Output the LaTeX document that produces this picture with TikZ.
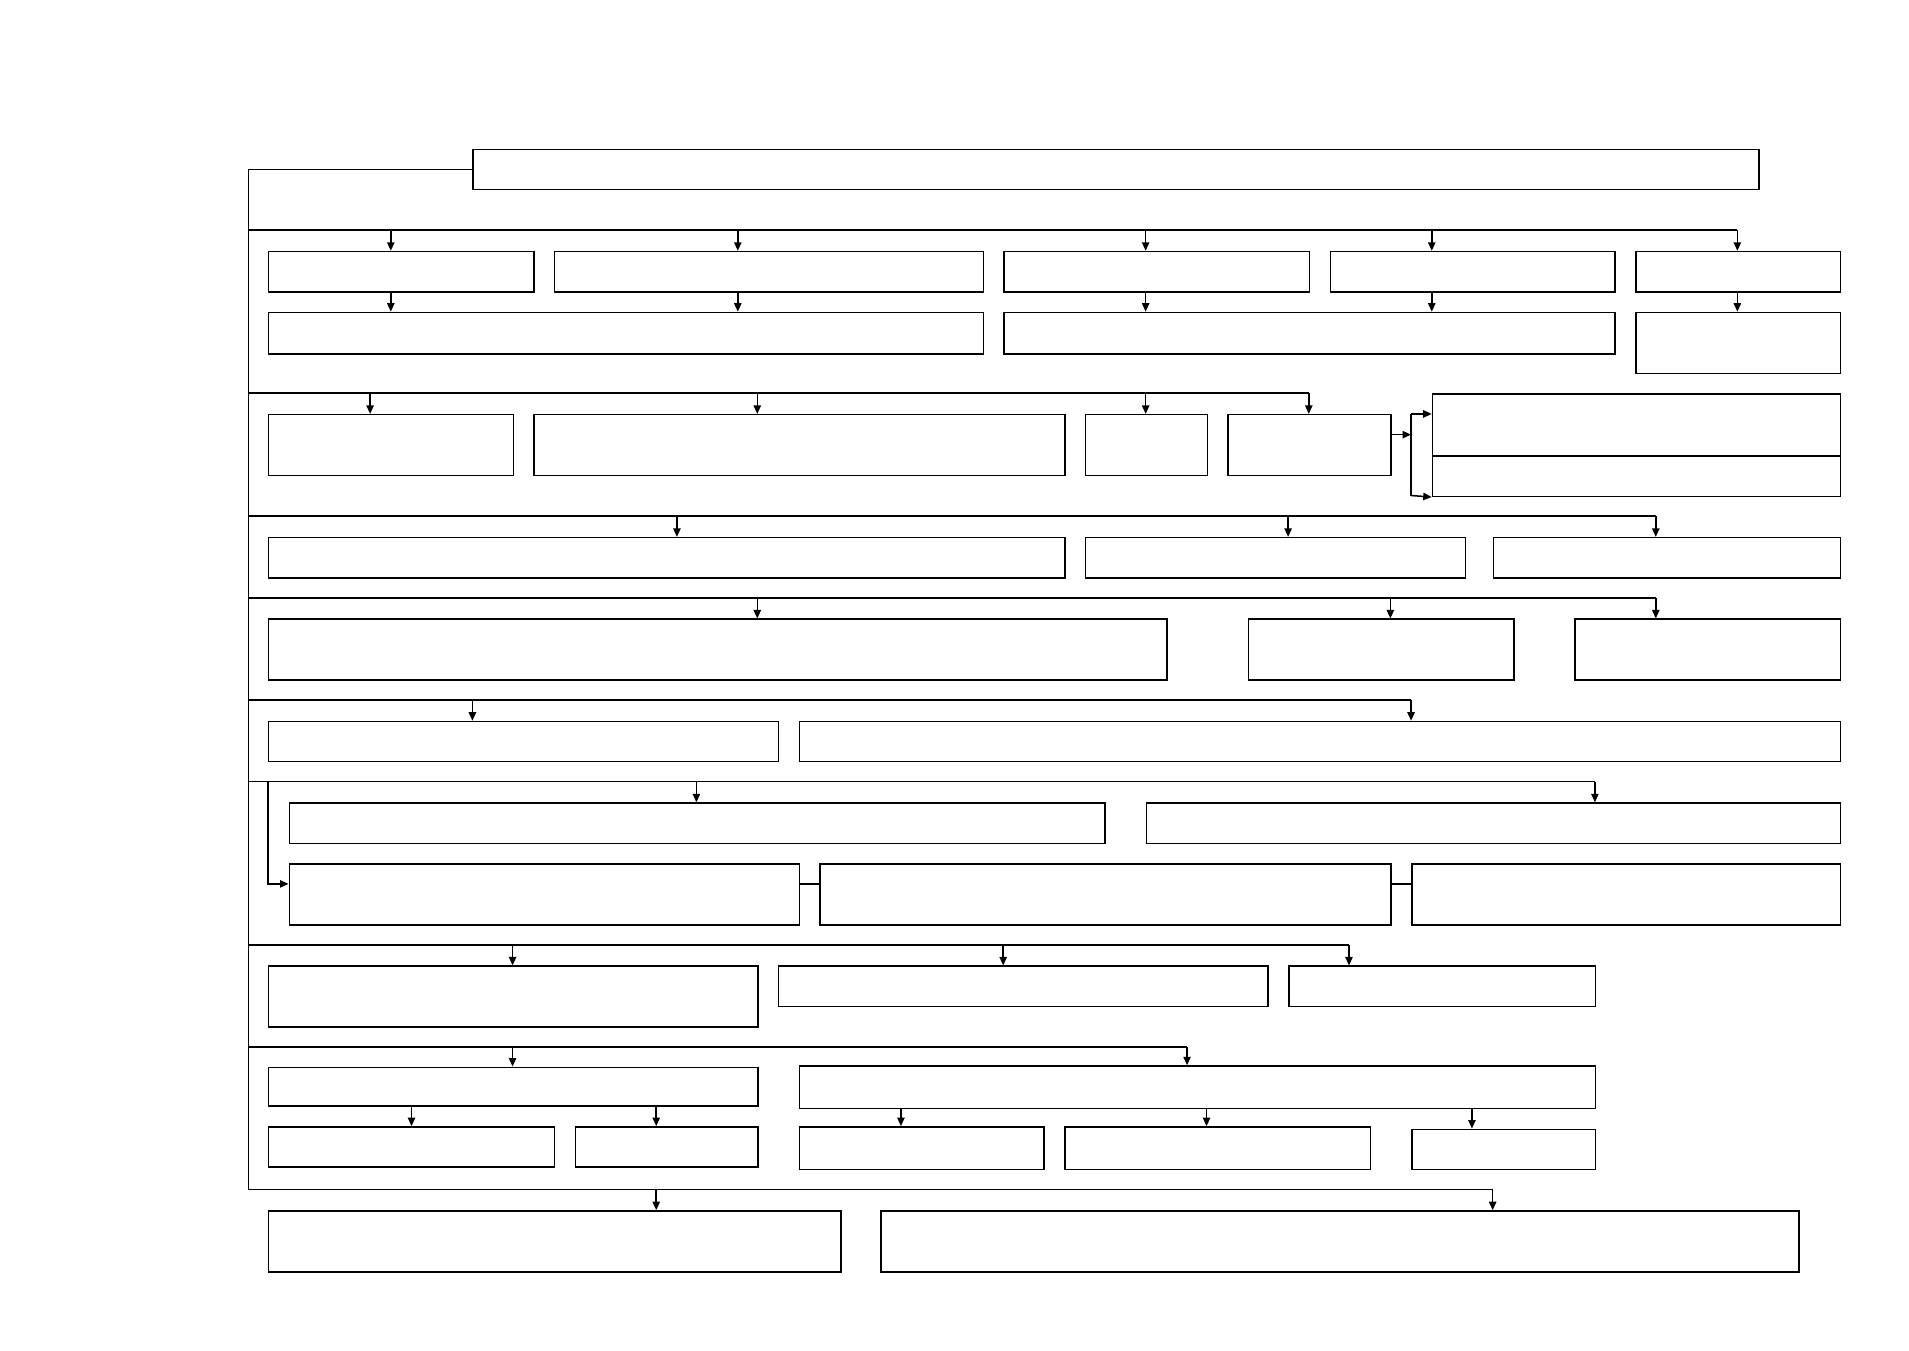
\documentclass[tikz,border=0pt]{standalone}
\usetikzlibrary{arrows.meta}
\tikzset{
  box/.style={draw, line width=1.25pt, rectangle, inner sep=0pt, anchor=north west},
  conn/.style={line width=1.25pt},
  arr/.style={conn, -{Triangle[length=7pt,width=6pt]}}
}
\newcommand\mybox[5]{\node[box, minimum width={(#4-#2)*1pt}, minimum height={(#5-#3)*1pt}] (#1) at (#2,#3) {};}
\begin{document}
\begin{tikzpicture}[x=1pt,y=-1pt]
\useasboundingbox (0,0) rectangle (1568,1109);
% boxes
\mybox{top}{388}{122}{1444}{155}
\mybox{A1}{220}{206}{438}{239}
\mybox{A2}{455}{206}{807}{239}
\mybox{A3}{824}{206}{1075}{239}
\mybox{A4}{1092}{206}{1326}{239}
\mybox{A5}{1343}{206}{1511}{239}
\mybox{B1}{220}{256}{807}{290}
\mybox{B2}{824}{256}{1326}{290}
\mybox{B3}{1343}{256}{1511}{306}
\mybox{C1}{220}{340}{421}{390}
\mybox{C2}{438}{340}{874}{390}
\mybox{C3}{891}{340}{991}{390}
\mybox{C4}{1008}{340}{1142}{390}
\mybox{D1}{1176}{323}{1511}{374}
\mybox{D2}{1176}{374}{1511}{407}
\mybox{E1}{220}{441}{874}{474}
\mybox{E2}{891}{441}{1203}{474}
\mybox{E3}{1226}{441}{1511}{474}
\mybox{F1}{220}{508}{958}{558}
\mybox{F2}{1025}{508}{1243}{558}
\mybox{F3}{1293}{508}{1511}{558}
\mybox{G1}{220}{592}{639}{625}
\mybox{G2}{656}{592}{1511}{625}
\mybox{H1}{237}{659}{907}{692}
\mybox{H2}{941}{659}{1511}{692}
\mybox{I1}{237}{709}{656}{759}
\mybox{I2}{673}{709}{1142}{759}
\mybox{I3}{1159}{709}{1511}{759}
\mybox{J1}{220}{793}{622}{843}
\mybox{J2}{639}{793}{1041}{826}
\mybox{J3}{1058}{793}{1310}{826}
\mybox{K1}{220}{876}{622}{908}
\mybox{K2}{656}{875}{1310}{910}
\mybox{L1}{220}{925}{455}{958}
\mybox{L2}{472}{925}{622}{958}
\mybox{L3}{656}{925}{857}{960}
\mybox{L4}{874}{925}{1125}{960}
\mybox{L5}{1159}{927}{1310}{960}
\mybox{M1}{220}{994}{690}{1044}
\mybox{M2}{723}{994}{1477}{1044}
% spine
\coordinate (sp0) at (204,0 |- top.west);
\coordinate (spE) at (204,977);
\draw[conn] (top.west) -- (sp0) -- (spE);
% branch lines
\coordinate (r1) at (204,189);
\coordinate (r3) at (204,323);
\coordinate (r4) at (204,424);
\coordinate (r5) at (204,491);
\coordinate (r6) at (204,575);
\coordinate (r7) at (204,642);
\coordinate (r9) at (204,776);
\coordinate (r10) at (204,860);
\coordinate (r12) at (204,977);
\draw[conn] (r1) -- (1427,0 |- r1);
\draw[conn] (r3) -- (1075,0 |- r3);
\draw[conn] (r4) -- (1360,0 |- r4);
\draw[conn] (r5) -- (1360,0 |- r5);
\draw[conn] (r6) -- (1159,0 |- r6);
\draw[conn] (r7) -- (1310,0 |- r7);
\draw[conn] (r9) -- (1108,0 |- r9);
\draw[conn] (r10) -- (975,0 |- r10);
\draw[conn] (r12) -- (1226,0 |- r12);
% taps
\foreach \x/\n in {321/A1,606/A2,941/A3,1176/A4,1427/A5}
  \draw[arr] (\x,0 |- r1) -- (\x,0 |- \n.north);
\foreach \x/\m/\n in {321/A1/B1,606/A2/B1,941/A3/B2,1176/A4/B2,1427/A5/B3}
  \draw[arr] (\x,0 |- \m.south) -- (\x,0 |- \n.north);
\foreach \x/\n in {304/C1,622/C2,941/C3,1075/C4}
  \draw[arr] (\x,0 |- r3) -- (\x,0 |- \n.north);
\foreach \x/\n in {556/E1,1058/E2,1360/E3}
  \draw[arr] (\x,0 |- r4) -- (\x,0 |- \n.north);
\foreach \x/\n in {622/F1,1142/F2,1360/F3}
  \draw[arr] (\x,0 |- r5) -- (\x,0 |- \n.north);
\foreach \x/\n in {388/G1,1159/G2}
  \draw[arr] (\x,0 |- r6) -- (\x,0 |- \n.north);
\foreach \x/\n in {572/H1,1310/H2}
  \draw[arr] (\x,0 |- r7) -- (\x,0 |- \n.north);
\foreach \x/\n in {421/J1,824/J2,1108/J3}
  \draw[arr] (\x,0 |- r9) -- (\x,0 |- \n.north);
\foreach \x/\n in {421/K1,975/K2}
  \draw[arr] (\x,0 |- r10) -- (\x,0 |- \n.north);
\foreach \x/\m/\n in {338/K1/L1,539/K1/L2,740/K2/L3,991/K2/L4,1209/K2/L5}
  \draw[arr] (\x,0 |- \m.south) -- (\x,0 |- \n.north);
\foreach \x/\n in {539/M1,1226/M2}
  \draw[arr] (\x,0 |- r12) -- (\x,0 |- \n.north);
% C4 to D
\coordinate (cj) at (1159,357);
\draw[arr] (C4.east |- cj) -- (cj);
\draw[conn] (1159,340) -- (1159,407);
\draw[arr] (1159,340) -- (D1.west |- 0,340);
\draw[arr] (1159,407) -- (D2.south west);
% row 7 side branch to I1
\coordinate (h0) at (220,642);
\coordinate (h1) at (220,726);
\draw[arr] (h0) -- (h1) -- (I1.west |- h1);
% I-row links
\coordinate (ij) at (0,726);
\draw[conn] (I1.east |- ij) -- (I2.west |- ij);
\draw[conn] (I2.east |- ij) -- (I3.west |- ij);
\end{tikzpicture}
\end{document}
